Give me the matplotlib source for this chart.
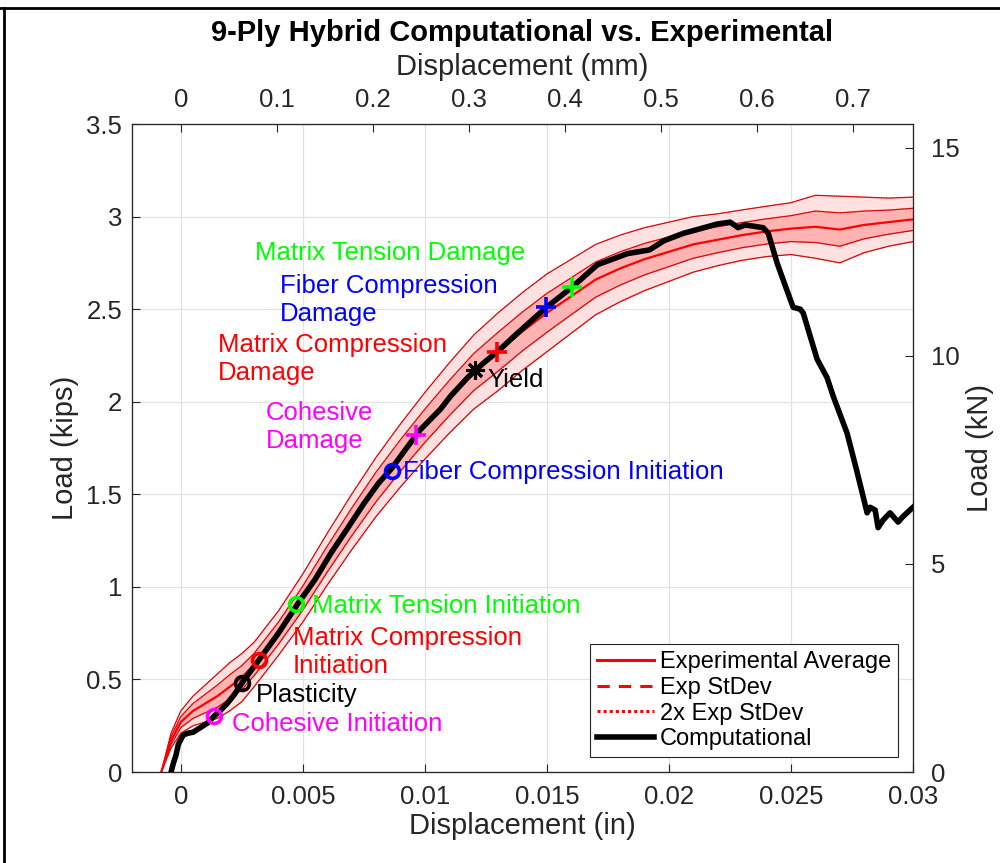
import matplotlib
matplotlib.use('Agg')
import matplotlib.pyplot as plt
from matplotlib.lines import Line2D
import numpy as np

plt.rcParams['font.family'] = ['Liberation Sans', 'DejaVu Sans']

# ── Data ──────────────────────────────────────────────────────────────────────
exp_x = np.array([-0.0008, -0.0004, 0.0, 0.0005, 0.001, 0.0015, 0.002, 0.0025, 0.003,
                  0.004, 0.005, 0.006, 0.007, 0.008, 0.009, 0.010, 0.011, 0.012, 0.013,
                  0.014, 0.015, 0.016, 0.017, 0.018, 0.019, 0.020, 0.021, 0.022, 0.023,
                  0.024, 0.025, 0.026, 0.027, 0.028, 0.029, 0.030])
exp_avg = np.array([0.0, 0.17, 0.27, 0.33, 0.37, 0.41, 0.46, 0.51, 0.58,
                    0.75, 0.94, 1.15, 1.35, 1.54, 1.71, 1.87, 2.02, 2.16, 2.27,
                    2.38, 2.48, 2.57, 2.66, 2.72, 2.77, 2.81, 2.85, 2.875, 2.90,
                    2.92, 2.935, 2.945, 2.93, 2.955, 2.97, 2.985])
exp_std = np.array([0.0, 0.02, 0.03, 0.04, 0.05, 0.06, 0.065, 0.065, 0.06,
                    0.06, 0.065, 0.07, 0.075, 0.08, 0.085, 0.09, 0.095, 0.10, 0.105,
                    0.105, 0.105, 0.10, 0.095, 0.09, 0.085, 0.08, 0.075, 0.07, 0.068,
                    0.068, 0.07, 0.085, 0.09, 0.075, 0.065, 0.06])

comp_x = np.array([-0.0004, -0.0003, -0.0002, -0.0001, 0.0001, 0.0003, 0.0005, 0.0008,
                   0.0011, 0.00135, 0.0016, 0.0019, 0.0022, 0.0025, 0.0032, 0.0040,
                   0.0048, 0.0055, 0.00614, 0.0068, 0.0075, 0.0081, 0.00864, 0.00925,
                   0.00982, 0.01064, 0.01105, 0.01175, 0.01207, 0.0125, 0.01297, 0.01379,
                   0.01498, 0.01604, 0.01707, 0.0183, 0.0192, 0.0198, 0.0206, 0.02116,
                   0.02198, 0.02251, 0.02284, 0.02312, 0.02386, 0.02407, 0.02443, 0.02484,
                   0.02509, 0.02538, 0.0255, 0.02607, 0.02648, 0.02673, 0.0273, 0.02771,
                   0.02812, 0.02824, 0.02845, 0.02857, 0.02877, 0.02906, 0.02939, 0.02959,
                   0.0300])
comp_y = np.array([0.0, 0.05, 0.09, 0.15, 0.20, 0.21, 0.215, 0.24,
                   0.265, 0.30, 0.33, 0.37, 0.42, 0.48, 0.605, 0.75,
                   0.91, 1.04, 1.18, 1.31, 1.45, 1.56, 1.64, 1.75,
                   1.85, 1.96, 2.03, 2.13, 2.17, 2.22, 2.27, 2.37,
                   2.51, 2.62, 2.74, 2.80, 2.82, 2.87, 2.91, 2.93,
                   2.96, 2.97, 2.94, 2.955, 2.94, 2.91, 2.75, 2.60,
                   2.51, 2.50, 2.48, 2.23, 2.13, 2.03, 1.83, 1.62,
                   1.40, 1.43, 1.415, 1.32, 1.36, 1.40, 1.35, 1.38,
                   1.43])

# damage events
event_names  = ['Cohesive Initiation', 'Plasticity', 'Matrix Compression\nInitiation',
                'Matrix Tension Initiation', 'Fiber Compression Initiation',
                'Cohesive\nDamage', 'Yield', 'Matrix Compression\nDamage',
                'Fiber Compression\nDamage', 'Matrix Tension Damage']
event_x      = [0.00135, 0.0025, 0.0032, 0.0047, 0.00864, 0.00962, 0.01207, 0.01297, 0.01498, 0.01604]
event_y      = [0.30, 0.48, 0.605, 0.905, 1.626, 1.82, 2.17, 2.27, 2.51, 2.62]
event_colors = ['#FF00FF', '#000000', '#FF0000', '#00FF00', '#0000FF',
                '#FF00FF', '#000000', '#FF0000', '#0000FF', '#00FF00']
event_marks  = ['o', 'o', 'o', 'o', 'o', '+', (8, 2, 0), '+', '+', '+']
label_x      = [0.0021, 0.00307, 0.00458, 0.00536, 0.00909, 0.00348, 0.01257, 0.00151, 0.00405, 0.00303]
label_y      = [0.26, 0.416, 0.648, 0.897, 1.62, 1.864, 2.118, 2.231, 2.55, 2.804]

x_ticks = [0, 0.005, 0.01, 0.015, 0.02, 0.025, 0.03]
x_tick_labels = ['0', '0.005', '0.01', '0.015', '0.02', '0.025', '0.03']
y_ticks = [0, 0.5, 1, 1.5, 2, 2.5, 3, 3.5]
y_tick_labels = ['0', '0.5', '1', '1.5', '2', '2.5', '3', '3.5']
mm_ticks = [0, 0.1, 0.2, 0.3, 0.4, 0.5, 0.6, 0.7]
mm_tick_labels = ['0', '0.1', '0.2', '0.3', '0.4', '0.5', '0.6', '0.7']
kn_ticks = [0, 5, 10, 15]
kn_tick_labels = ['0', '5', '10', '15']

IN_TO_MM = 25.4
KIP_TO_KN = 4.44822
XLIM = (-0.002, 0.03)
YLIM = (0, 3.5)

AX_COL = '#262626'
INNER = '#FFB3B3'
OUTER = '#FFE1E1'
TICK_FS = 18.5
LABEL_FS = 21

# ── Figure ────────────────────────────────────────────────────────────────────
fig = plt.figure(figsize=(10, 8.63), dpi=100)
fig.patch.set_facecolor('white')
ax = fig.add_axes([0.132, 0.1054, 0.781, 0.7509])

lo2, hi2 = exp_avg - 2 * exp_std, exp_avg + 2 * exp_std
lo1, hi1 = exp_avg - exp_std, exp_avg + exp_std
ax.fill_between(exp_x, lo2, hi2, color=OUTER, lw=0, zorder=2)
ax.fill_between(exp_x, lo1, hi1, color=INNER, lw=0, zorder=2)
for bound in (lo2, hi2, lo1, hi1):
    ax.plot(exp_x, bound, color='#FF0000', lw=0.9, zorder=3)
    ax.plot(exp_x, bound, color='#5a3030', lw=0.6, ls=(0, (1, 2)), zorder=3)
ax.plot(exp_x, exp_avg, color='#FF0000', lw=1.6, zorder=4)
ax.plot(comp_x, comp_y, color='black', lw=4, zorder=5, solid_joinstyle='round')

for i in range(len(event_names)):
    m = event_marks[i]
    if m == 'o':
        ax.plot(event_x[i], event_y[i], marker='o', ms=10, mfc='none', mec=event_colors[i],
                mew=2.6, ls='none', zorder=6)
    elif m == '+':
        ax.plot(event_x[i], event_y[i], marker='+', ms=15, mec=event_colors[i],
                mew=2.6, ls='none', zorder=6)
    else:
        ax.plot(event_x[i], event_y[i], marker=m, ms=13, mec=event_colors[i],
                mew=2.2, ls='none', zorder=6)
    ax.text(label_x[i], label_y[i], event_names[i], color=event_colors[i],
            fontsize=TICK_FS, ha='left', va='center', linespacing=1.25, zorder=7)

ax.set_xlim(*XLIM)
ax.set_ylim(*YLIM)
ax.set_xticks(x_ticks)
ax.set_xticklabels(x_tick_labels)
ax.set_yticks(y_ticks)
ax.set_yticklabels(y_tick_labels)
ax.grid(True, color='#e3e3e3', lw=0.9, zorder=0)
ax.set_axisbelow(True)
ax.tick_params(direction='in', length=6, width=0.8, colors=AX_COL, labelsize=TICK_FS, pad=7)
ax.tick_params(axis='x', pad=9)
for s in ax.spines.values():
    s.set_color(AX_COL)
    s.set_linewidth(0.8)

ax.set_xlabel('Displacement (in)', fontsize=LABEL_FS, color=AX_COL, va='center')
ax.xaxis.set_label_coords(0.5, -0.0833)
ax.set_ylabel('Load (kips)', fontsize=LABEL_FS, color=AX_COL, va='center')
ax.yaxis.set_label_coords(-0.0858, 0.5)

# top axis in mm
ax_top = ax.twiny()
ax_top.set_xlim(XLIM[0] * IN_TO_MM, XLIM[1] * IN_TO_MM)
ax_top.set_xticks(mm_ticks)
ax_top.set_xticklabels(mm_tick_labels)
ax_top.tick_params(direction='in', length=6, width=0.8, colors=AX_COL, labelsize=TICK_FS, pad=9)
ax_top.set_xlabel('Displacement (mm)', fontsize=LABEL_FS, color=AX_COL, va='center')
ax_top.xaxis.set_label_coords(0.5, 1.088)

# right axis in kN
ax_r = ax.twinx()
ax_r.set_ylim(YLIM[0] * KIP_TO_KN, YLIM[1] * KIP_TO_KN)
ax_r.set_yticks(kn_ticks)
ax_r.set_yticklabels(kn_tick_labels)
ax_r.tick_params(direction='in', length=6, width=0.8, colors=AX_COL, labelsize=TICK_FS, pad=13)
ax_r.set_ylabel('Load (kN)', fontsize=LABEL_FS, color=AX_COL, va='center')
ax_r.yaxis.set_label_coords(1.0858, 0.5)
for a in (ax_top, ax_r):
    for s in a.spines.values():
        s.set_color(AX_COL)
        s.set_linewidth(0.8)

ax_top.set_title('9-Ply Hybrid Computational vs. Experimental', fontsize=LABEL_FS,
                 fontweight='bold', color='black', y=1.140, va='center', pad=0)

handles = [Line2D([], [], color='#FF0000', lw=2.2),
           Line2D([], [], color='#FF0000', lw=2.2, ls=(0, (4, 3))),
           Line2D([], [], color='#FF0000', lw=2.2, ls=(0, (1, 1))),
           Line2D([], [], color='black', lw=4)]
leg = ax_r.legend(handles, ['Experimental Average', 'Exp StDev', '2x Exp StDev', 'Computational'],
                  loc='lower right', bbox_to_anchor=(0.981, 0.023), fontsize=17,
                  frameon=True, fancybox=False, framealpha=1, edgecolor=AX_COL,
                  handlelength=2.4, handletextpad=0.25, labelspacing=0.15,
                  borderpad=0.3, borderaxespad=0)
leg.get_frame().set_linewidth(0.8)

# outer frame lines (top and left)
fig.add_artist(Line2D([0, 1], [1 - 8 / 863, 1 - 8 / 863], color='black', lw=2,
                      transform=fig.transFigure))
fig.add_artist(Line2D([4 / 1000, 4 / 1000], [0, 1 - 8 / 863], color='black', lw=2,
                      transform=fig.transFigure))

fig.savefig('out.png', dpi=100)
